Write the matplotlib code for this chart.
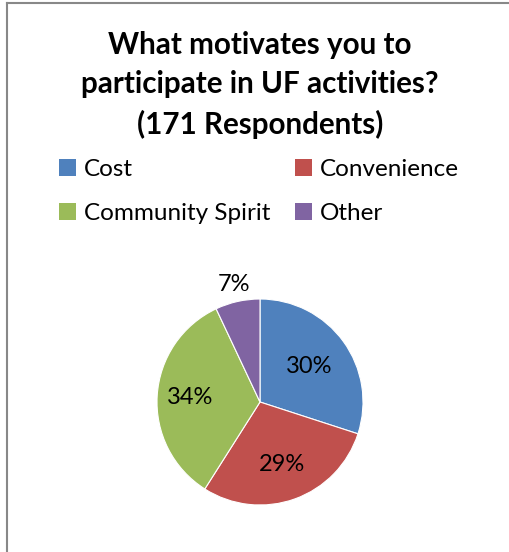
import numpy as np
import matplotlib
matplotlib.use("Agg")
import matplotlib.pyplot as plt
from matplotlib.patches import Patch
from matplotlib.lines import Line2D

categories = ["Cost", "Convenience", "Community Spirit", "Other"]
values = [30, 29, 34, 7]
colors = ["#4F81BD", "#C0504D", "#9BBB59", "#8064A2"]
title = "What motivates you to\nparticipate in UF activities?\n(171 Respondents)"

FONT = "Lato"
W, H = 509, 552
fig = plt.figure(figsize=(W / 100, H / 100), dpi=100)
fig.patch.set_facecolor("white")

# border lines (top and left)
fig.add_artist(Line2D([6.5 / W, 1], [1 - 2.5 / H, 1 - 2.5 / H], color="#888888", lw=1.5, transform=fig.transFigure))
fig.add_artist(Line2D([6.5 / W, 6.5 / W], [0, 1 - 2.5 / H], color="#888888", lw=1.5, transform=fig.transFigure))

fig.text(260 / W, 1 - 85 / H, title, ha="center", va="center", fontsize=21.3,
         fontweight="bold", family=FONT, linespacing=1.5)

cx, cy, r = 260, 402, 103
ax = fig.add_axes([(cx - r) / W, (H - cy - r) / H, 2 * r / W, 2 * r / H])
wedges, _ = ax.pie(values, colors=colors, startangle=90, counterclock=False,
                   wedgeprops=dict(edgecolor="white", linewidth=0.8))
ax.set_xlim(-1, 1)
ax.set_ylim(-1, 1)
ax.set_aspect("equal")
ax.axis("off")

dists = [0.59, 0.64, 0.68, 1.17]
for w, v, d in zip(wedges, values, dists):
    a = np.deg2rad((w.theta1 + w.theta2) / 2)
    ax.text(d * np.cos(a), d * np.sin(a), f"{v}%", ha="center", va="center",
            fontsize=17, family=FONT, clip_on=False)

order = [0, 2, 1, 3]
handles = [Patch(facecolor=colors[i], edgecolor="none") for i in order]
labels = [categories[i] for i in order]
fig.legend(handles, labels, ncol=2, loc="center", bbox_to_anchor=(259 / W, 1 - 191.5 / H),
           frameon=False, prop=dict(family=FONT, size=17.5), handlelength=0.7, handleheight=0.7,
           handletextpad=0.35, columnspacing=1.0, labelspacing=0.93)

fig.savefig("out.png", dpi=100, facecolor="white")
